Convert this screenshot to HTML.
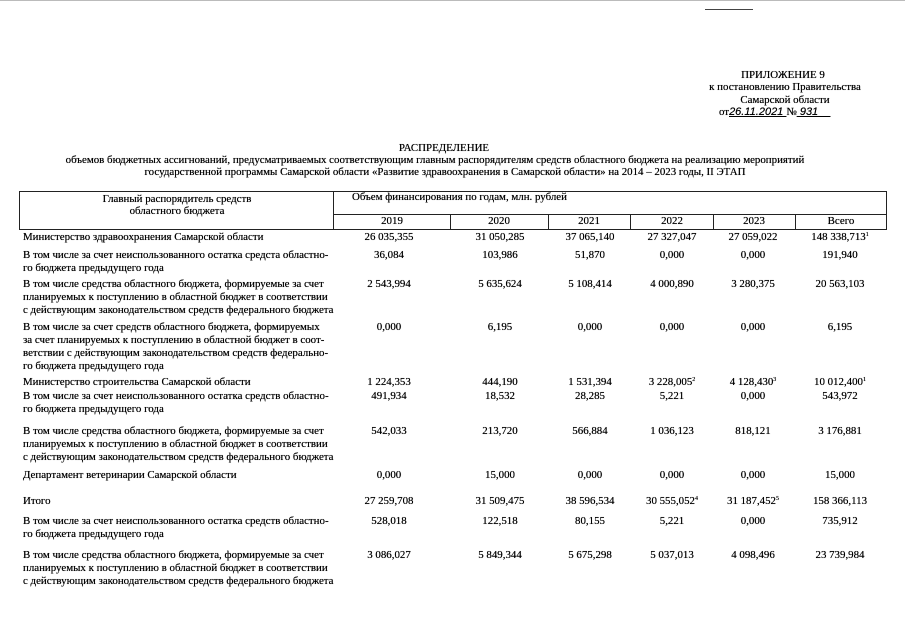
<!DOCTYPE html>
<html><head><meta charset="utf-8"><style>
body{margin:0;width:905px;height:639px;background:#fff;position:relative;overflow:hidden;font-family:"Liberation Serif","DejaVu Serif",serif;color:#000;font-size:10.9px}
.t{position:absolute;white-space:nowrap;line-height:13px;text-shadow:0 0 0.4px #000}
.c{transform:translateX(-50%);text-align:center}
.l{position:absolute;background:#222}
sup{font-size:6px;vertical-align:top;line-height:8px}
</style></head><body>
<div class="l" style="left:0;top:0;width:905px;height:1px;background:#bbb"></div>
<div class="l" style="left:705px;top:9px;width:48px;height:1px;background:#444"></div>
<div class="t c" style="left:783px;top:69px">ПРИЛОЖЕНИЕ 9</div>
<div class="t c" style="left:785px;top:81px">к постановлению Правительства</div>
<div class="t c" style="left:785px;top:94px">Самарской области</div>
<div class="t" style="left:719px;top:106px">от<i style="text-decoration:underline;font-family:'Liberation Sans',sans-serif;font-size:11px">26.11.2021 </i> №<i style="text-decoration:underline;font-family:'Liberation Sans',sans-serif;font-size:11px">&nbsp;931&nbsp;&nbsp;&nbsp;&nbsp;</i></div>

<div class="t c" style="left:444px;top:142px">РАСПРЕДЕЛЕНИЕ</div>
<div class="t c" style="left:435px;top:154px;font-size:10.9px">объемов бюджетных ассигнований, предусматриваемых соответствующим главным распорядителям средств областного бюджета на реализацию мероприятий</div>
<div class="t c" style="left:445px;top:166px;font-size:10.9px">государственной программы Самарской области «Развитие здравоохранения в Самарской области» на 2014 – 2023 годы, II ЭТАП</div>

<div class="l" style="left:19px;top:191px;width:868px;height:1px"></div>
<div class="l" style="left:19px;top:191px;width:1px;height:39px"></div>
<div class="l" style="left:886px;top:191px;width:1px;height:39px"></div>
<div class="l" style="left:333px;top:191px;width:1px;height:39px"></div>
<div class="l" style="left:333px;top:214px;width:554px;height:1px"></div>
<div class="l" style="left:19px;top:229px;width:868px;height:1px"></div>
<div class="l" style="left:450px;top:214px;width:1px;height:16px"></div>
<div class="l" style="left:548px;top:214px;width:1px;height:16px"></div>
<div class="l" style="left:630px;top:214px;width:1px;height:16px"></div>
<div class="l" style="left:713px;top:214px;width:1px;height:16px"></div>
<div class="l" style="left:795px;top:214px;width:1px;height:16px"></div>
<div class="t c" style="left:177px;top:193px">Главный распорядитель средств</div>
<div class="t c" style="left:177px;top:205px">областного бюджета</div>
<div class="t" style="left:352px;top:191px">Объем финансирования по годам, млн. рублей</div>
<div class="t c" style="left:392px;top:215px">2019</div>
<div class="t c" style="left:499px;top:215px">2020</div>
<div class="t c" style="left:589px;top:215px">2021</div>
<div class="t c" style="left:672px;top:215px">2022</div>
<div class="t c" style="left:754px;top:215px">2023</div>
<div class="t c" style="left:841px;top:215px">Всего</div>

<div class="t" style="left:23px;top:231px">Министерство здравоохранения Самарской области</div>
<div class="t" style="left:23px;top:249px">В том числе за счет неиспользованного остатка средста областно-<br>го бюджета предыдущего года</div>
<div class="t" style="left:23px;top:278px">В том числе средства областного бюджета, формируемые за счет<br>планируемых к поступлению в областной бюджет в соответствии<br>с действующим законодательством средств федерального бюджета</div>
<div class="t" style="left:23px;top:321px">В том числе за счет средств областного бюджета, формируемых<br>за счет планируемых к поступлению в областной бюджет в соот-<br>ветствии с действующим законодательством средств федерально-<br>го бюджета предыдущего года</div>
<div class="t" style="left:23px;top:376px">Министерство строительства Самарской области</div>
<div class="t" style="left:23px;top:390px">В том числе за счет неиспользованного остатка средств областно-<br>го бюджета предыдущего года</div>
<div class="t" style="left:23px;top:425px">В том числе средства областного бюджета, формируемые за счет<br>планируемых к поступлению в областной бюджет в соответствии<br>с действующим законодательством средств федерального бюджета</div>
<div class="t" style="left:23px;top:469px">Департамент ветеринарии Самарской области</div>
<div class="t" style="left:23px;top:495px">Итого</div>
<div class="t" style="left:23px;top:515px">В том числе за счет неиспользованного остатка средств областно-<br>го бюджета предыдущего года</div>
<div class="t" style="left:23px;top:549px">В том числе средства областного бюджета, формируемые за счет<br>планируемых к поступлению в областной бюджет в соответствии<br>с действующим законодательством средств федерального бюджета</div>

<div class="t c" style="left:389px;top:231px">26 035,355</div><div class="t c" style="left:500px;top:231px">31 050,285</div><div class="t c" style="left:590px;top:231px">37 065,140</div><div class="t c" style="left:672px;top:231px">27 327,047</div><div class="t c" style="left:753px;top:231px">27 059,022</div><div class="t c" style="left:840px;top:231px">148 338,713<sup>1</sup></div>
<div class="t c" style="left:389px;top:249px">36,084</div><div class="t c" style="left:500px;top:249px">103,986</div><div class="t c" style="left:590px;top:249px">51,870</div><div class="t c" style="left:672px;top:249px">0,000</div><div class="t c" style="left:753px;top:249px">0,000</div><div class="t c" style="left:840px;top:249px">191,940</div>
<div class="t c" style="left:389px;top:278px">2 543,994</div><div class="t c" style="left:500px;top:278px">5 635,624</div><div class="t c" style="left:590px;top:278px">5 108,414</div><div class="t c" style="left:672px;top:278px">4 000,890</div><div class="t c" style="left:753px;top:278px">3 280,375</div><div class="t c" style="left:840px;top:278px">20 563,103</div>
<div class="t c" style="left:389px;top:321px">0,000</div><div class="t c" style="left:500px;top:321px">6,195</div><div class="t c" style="left:590px;top:321px">0,000</div><div class="t c" style="left:672px;top:321px">0,000</div><div class="t c" style="left:753px;top:321px">0,000</div><div class="t c" style="left:840px;top:321px">6,195</div>
<div class="t c" style="left:389px;top:376px">1 224,353</div><div class="t c" style="left:500px;top:376px">444,190</div><div class="t c" style="left:590px;top:376px">1 531,394</div><div class="t c" style="left:672px;top:376px">3 228,005<sup>2</sup></div><div class="t c" style="left:753px;top:376px">4 128,430<sup>3</sup></div><div class="t c" style="left:840px;top:376px">10 012,400<sup>1</sup></div>
<div class="t c" style="left:389px;top:390px">491,934</div><div class="t c" style="left:500px;top:390px">18,532</div><div class="t c" style="left:590px;top:390px">28,285</div><div class="t c" style="left:672px;top:390px">5,221</div><div class="t c" style="left:753px;top:390px">0,000</div><div class="t c" style="left:840px;top:390px">543,972</div>
<div class="t c" style="left:389px;top:425px">542,033</div><div class="t c" style="left:500px;top:425px">213,720</div><div class="t c" style="left:590px;top:425px">566,884</div><div class="t c" style="left:672px;top:425px">1 036,123</div><div class="t c" style="left:753px;top:425px">818,121</div><div class="t c" style="left:840px;top:425px">3 176,881</div>
<div class="t c" style="left:389px;top:469px">0,000</div><div class="t c" style="left:500px;top:469px">15,000</div><div class="t c" style="left:590px;top:469px">0,000</div><div class="t c" style="left:672px;top:469px">0,000</div><div class="t c" style="left:753px;top:469px">0,000</div><div class="t c" style="left:840px;top:469px">15,000</div>
<div class="t c" style="left:389px;top:495px">27 259,708</div><div class="t c" style="left:500px;top:495px">31 509,475</div><div class="t c" style="left:590px;top:495px">38 596,534</div><div class="t c" style="left:672px;top:495px">30 555,052<sup>4</sup></div><div class="t c" style="left:753px;top:495px">31 187,452<sup>5</sup></div><div class="t c" style="left:840px;top:495px">158 366,113</div>
<div class="t c" style="left:389px;top:515px">528,018</div><div class="t c" style="left:500px;top:515px">122,518</div><div class="t c" style="left:590px;top:515px">80,155</div><div class="t c" style="left:672px;top:515px">5,221</div><div class="t c" style="left:753px;top:515px">0,000</div><div class="t c" style="left:840px;top:515px">735,912</div>
<div class="t c" style="left:389px;top:549px">3 086,027</div><div class="t c" style="left:500px;top:549px">5 849,344</div><div class="t c" style="left:590px;top:549px">5 675,298</div><div class="t c" style="left:672px;top:549px">5 037,013</div><div class="t c" style="left:753px;top:549px">4 098,496</div><div class="t c" style="left:840px;top:549px">23 739,984</div>
</body></html>
